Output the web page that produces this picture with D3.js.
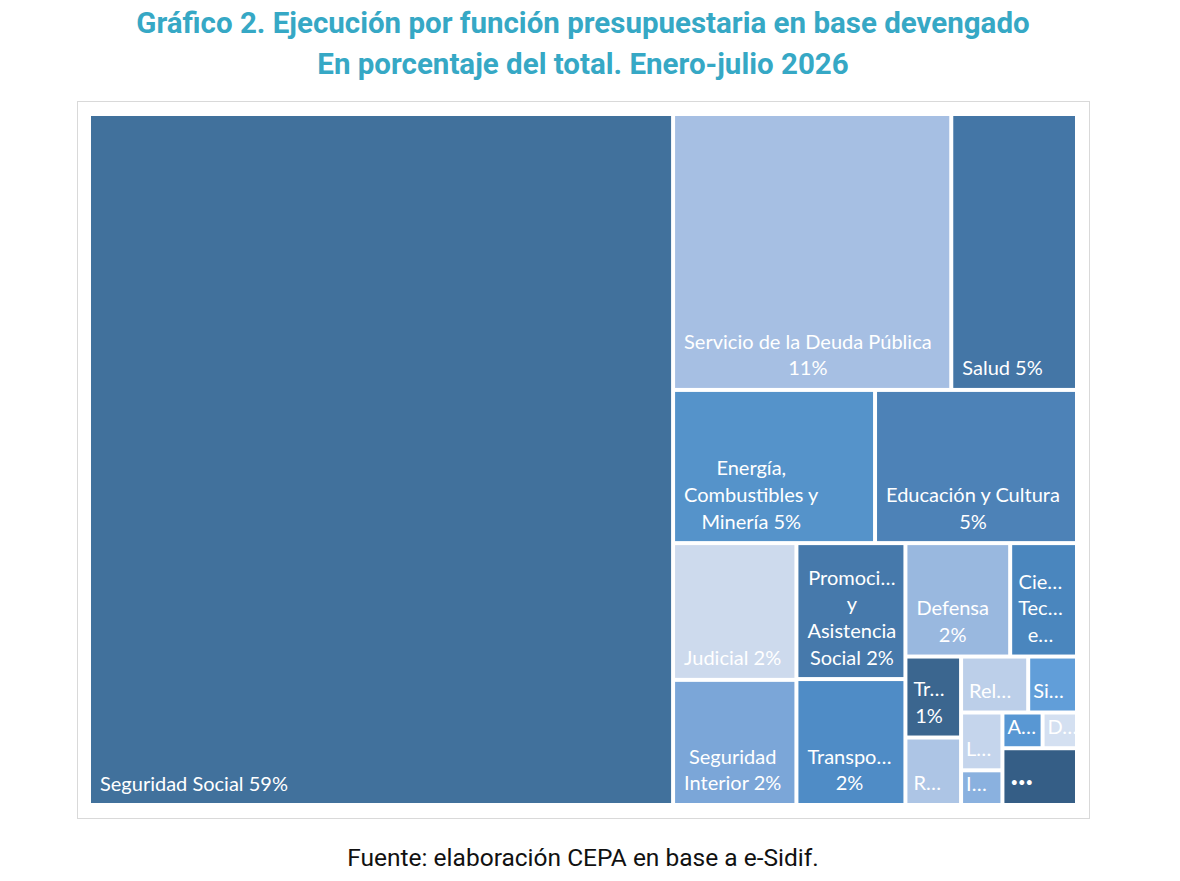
<!DOCTYPE html>
<html>
<head>
<meta charset="utf-8">
<script src="https://cdn.jsdelivr.net/npm/d3@7"></script>
<style>
  body { margin: 0; background: #fff; }
  .title { font-family: Roboto, sans-serif; font-weight: 700; font-size: 29.5px; fill: #36a8c5; }
  .source { font-family: Roboto, sans-serif; font-size: 24.5px; fill: #111; }
  .cell-label { font-family: Lato, "Noto Sans", sans-serif; font-size: 20px; fill: #fff; }
</style>
</head>
<body>
<svg id="chart" width="1180" height="881"></svg>
<script>
// Budget functions, in the order the treemap lays them out
var names = [
    "Seguridad Social", "Servicio de la Deuda Pública", "Salud",
    "Energía, Combustibles y Minería", "Educación y Cultura", "Judicial",
    "Seguridad Interior", "Promoción y Asistencia Social", "Transporte",
    "Defensa", "Ciencia, Tecnología e Innovación", "Trabajo",
    "Relaciones Interiores", "Relaciones Exteriores", "Sistema Penal",
    "Legislativa", "Industria", "Agricultura", "Dirección Superior Ejecutiva",
    "Otros"
];
// Share of total (%)
var shares = [
    59.1, 11.24, 5.08,
    4.53, 4.53, 2.47,
    2.26, 2.17, 2.01,
    1.74, 1.11, 0.66,
    0.55, 0.55, 0.40,
    0.35, 0.21, 0.21, 0.18,
    0.62
];
// Labels as shown inside each cell
var labelLines = [
    ["Seguridad Social 59%"], ["Servicio de la Deuda Pública", "11%"], ["Salud 5%"],
    ["Energía,", "Combustibles y", "Minería 5%"], ["Educación y Cultura", "5%"], ["Judicial 2%"],
    ["Seguridad", "Interior 2%"], ["Promoci…", "y", "Asistencia", "Social 2%"], ["Transpo…", "2%"],
    ["Defensa", "2%"], ["Cie…", "Tec…", "e…"], ["Tr…", "1%"],
    ["R…"], ["Rel…"], ["Si…"],
    ["L…"], ["I…"], ["A…"], ["D…"],
    ["•••"]
];
var colors = [
    "#41719c", "#a6bfe3", "#4476a6",
    "#5593ca", "#4d82b7", "#cddaed",
    "#7ba6d8", "#4679ab", "#4f8cc6",
    "#99b8df", "#4a86be", "#3b668f",
    "#adc5e5", "#bccfe9", "#619ed9",
    "#c5d5ec", "#8ab1df", "#5897d3", "#d4e0f1",
    "#355e86"
];

var titleLines = [
    "Gráfico 2. Ejecución por función presupuestaria en base devengado",
    "En porcentaje del total. Enero-julio 2026"
];
var sourceText = "Fuente: elaboración CEPA en base a e-Sidif.";

// Layout
var tm_left = 91;
var tm_top = 116;
var tm_width = 984;
var tm_height = 687;
var gap = 4;
var line_h = 26.6;

var svg = d3.select("#chart");

// Titles
svg.selectAll(".title")
    .data(titleLines)
    .enter()
    .append("text")
    .attr("class", "title")
    .attr("text-anchor", "middle")
    .attr("x", 583)
    .attr("y", (d, i) => 33 + i * 41)
    .text(d => d);

// Frame
svg.append("rect")
    .attr("x", 77.5)
    .attr("y", 101.5)
    .attr("width", 1012)
    .attr("height", 717)
    .attr("fill", "#fff")
    .attr("stroke", "#d9d9d9");

// Treemap
var data = names.map((n, i) => ({name: n, value: shares[i], color: colors[i], lines: labelLines[i]}));
var root = d3.hierarchy({children: data}).sum(d => d.value || 0);
d3.treemap()
    .tile(d3.treemapSquarify.ratio(1.05))
    .size([tm_width, tm_height])
    .paddingInner(gap)(root);

var cells = svg.append("g")
    .attr("transform", "translate(" + tm_left + "," + tm_top + ")")
    .selectAll("g")
    .data(root.leaves())
    .enter()
    .append("g")
    .attr("transform", d => "translate(" + d.x0 + "," + d.y0 + ")");

cells.append("rect")
    .attr("width", d => d.x1 - d.x0)
    .attr("height", d => d.y1 - d.y0)
    .attr("fill", d => d.data.color);

cells.each(function(d) {
    var g = d3.select(this);
    var w = d.x1 - d.x0, h = d.y1 - d.y0;
    var n = d.data.lines.length;
    var pad = w > 100 ? 9 : (w > 45 ? 6 : 3);
    var lastBase = h - 12.5;
    var firstBase = lastBase - (n - 1) * line_h;
    if (firstBase - 14 < 3) {
        // centre the block when the cell is too short
        firstBase = (h - (n - 1) * line_h) / 2 + 7;
    }
    var texts = g.selectAll("text")
        .data(d.data.lines)
        .enter()
        .append("text")
        .attr("class", "cell-label")
        .style("font-size", s => s === "•••" ? "13px" : null)
        .attr("y", (s, i) => firstBase + i * line_h - (s === "•••" ? 3 : 0))
        .text(s => s);
    var lens = [];
    texts.each(function() { lens.push(this.getComputedTextLength()); });
    var blockW = d3.max(lens);
    texts.attr("text-anchor", "middle").attr("x", pad + blockW / 2);
});

// Source
svg.append("text")
    .attr("class", "source")
    .attr("text-anchor", "middle")
    .attr("x", 583)
    .attr("y", 866)
    .text(sourceText);
</script>
</body>
</html>
